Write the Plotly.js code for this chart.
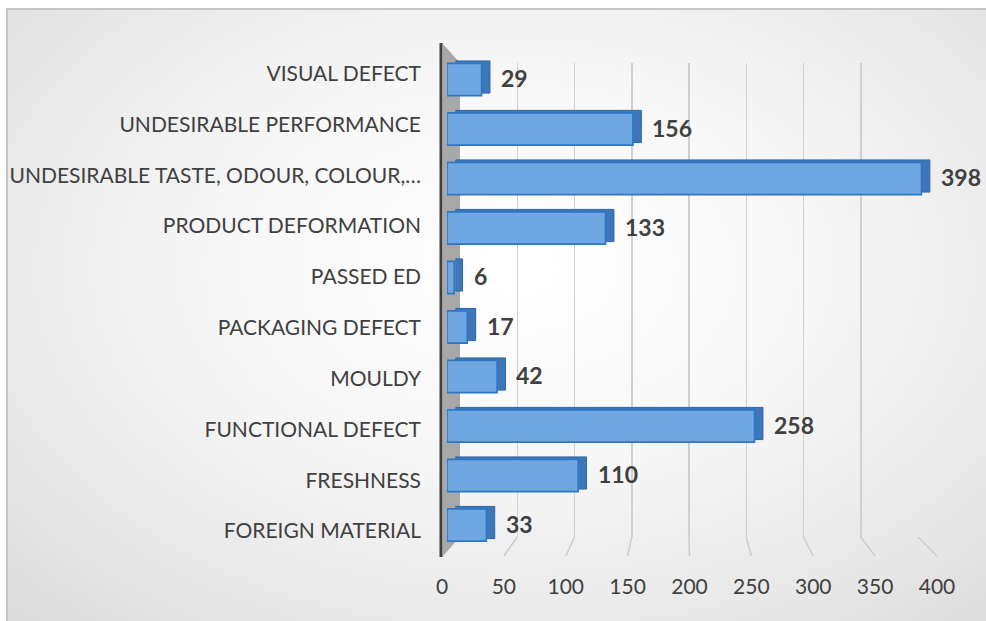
<!DOCTYPE html>
<html>
<head>
<meta charset="utf-8">
<script src="https://cdn.plot.ly/plotly-3.0.1.min.js"></script>
<style>
  html, body { margin: 0; padding: 0; background: #ffffff; }
  #wrap { position: relative; width: 986px; height: 621px; overflow: hidden; background: #ffffff; }
  #frame {
    position: absolute; left: 6px; top: 8px; right: -4px; bottom: -4px;
    border-left: 2px solid #c6c6c6; border-top: 2px solid #c6c6c6;
    background: radial-gradient(ellipse 75% 80% at 52% 42%, #ffffff 0%, #f7f7f7 40%, #e6e6e6 80%, #dadada 100%);
  }
  #chart { position: absolute; left: 0; top: 0; width: 986px; height: 621px; }
</style>
</head>
<body>
<div id="wrap">
  <div id="frame"></div>
  <div id="chart"></div>
</div>
<script>
// Complaint categories, bottom to top
const categories = [
  "FOREIGN MATERIAL",
  "FRESHNESS",
  "FUNCTIONAL DEFECT",
  "MOULDY",
  "PACKAGING DEFECT",
  "PASSED ED",
  "PRODUCT DEFORMATION",
  "UNDESIRABLE TASTE, ODOUR, COLOUR,\u2026",
  "UNDESIRABLE PERFORMANCE",
  "VISUAL DEFECT"
];
// Number of complaints per category
const counts = [33, 110, 258, 42, 17, 6, 133, 398, 156, 29];
// Value axis ticks
const tickValues = [0, 50, 100, 150, 200, 250, 300, 350, 400];

const W = 986, H = 621;
const fx = px => px / W;
const fy = py => 1 - py / H;

// Pixel geometry of the pseudo-3D box
const GRID = { x0: 460, x1: 918, top: 63, bottom: 537 };     // back wall gridlines
const FRONT_TICKS = { x0: 442, x1: 937, y: 572 };            // front edge with tick labels
const FLOOR_FRONT = 556;
const BAR = { x0: 447, scale: 1.192, depth: 8.4, lift: 2.5, top: 54.75, bottom: 549.75 };
const LABELS = { top: 48.1, bottom: 556.4, x: 441 };
const VMAX = 400;

const gridPx = v => GRID.x0 + (GRID.x1 - GRID.x0) * v / VMAX;
const frontPx = v => FRONT_TICKS.x0 + (FRONT_TICKS.x1 - FRONT_TICKS.x0) * v / VMAX;

const FONT = "Lato, 'Open Sans', sans-serif";
const TEXT = "#404040";

// Empty traces so the grid axis and the two label axes get drawn
const gridHolder = { type: "scatter", mode: "none", x: [], y: [], xaxis: "x", yaxis: "y", hoverinfo: "skip", showlegend: false };
const labelHolder = { type: "scatter", mode: "none", x: [], y: [], xaxis: "x4", yaxis: "y5", hoverinfo: "skip", showlegend: false };

// Back face of each bar (depth), drawn first
const backBars = {
  type: "bar", orientation: "h",
  x: counts, y: categories,
  xaxis: "x2", yaxis: "y2",
  width: 0.65,
  marker: { color: "#3f76b8", line: { color: "#2d67ad", width: 1 } },
  hoverinfo: "skip", showlegend: false
};
// Front face of each bar
const frontBars = {
  type: "bar", orientation: "h",
  x: counts, y: categories,
  xaxis: "x3", yaxis: "y3",
  width: 0.65,
  marker: { color: "#6ea7e1", line: { color: "#2f77c6", width: 1.6 } },
  hoverinfo: "skip", showlegend: false
};

const barXDomainEnd = x0 => fx(x0 + BAR.scale * VMAX);

const shapes = [];
// Grey side wall
shapes.push({
  type: "path", xref: "paper", yref: "paper", layer: "below",
  path: `M ${fx(443)},${fy(44)} L ${fx(GRID.x0)},${fy(GRID.top)} L ${fx(GRID.x0)},${fy(GRID.bottom)} L ${fx(443)},${fy(FLOOR_FRONT)} Z`,
  fillcolor: "#a8a8a8", line: { width: 0 }
});
// Dark wall edge
shapes.push({
  type: "line", xref: "paper", yref: "paper", layer: "below",
  x0: fx(LABELS.x), x1: fx(LABELS.x), y0: fy(43), y1: fy(557),
  line: { color: "#404040", width: 3 }
});
// Floor lines running from each back gridline to the front tick
tickValues.filter(v => v > 0).forEach(v => {
  shapes.push({
    type: "line", xref: "paper", yref: "paper", layer: "below",
    x0: fx(gridPx(v)), y0: fy(GRID.bottom), x1: fx(frontPx(v)), y1: fy(FLOOR_FRONT),
    line: { color: "#cdcdcd", width: 1.5 }
  });
});

// Value labels at the end of each bar
const annotations = counts.map((c, i) => ({
  x: c, y: categories[i], xref: "x2", yref: "y2",
  text: String(c), showarrow: false,
  xanchor: "left", yanchor: "middle", xshift: 9, yshift: -1,
  font: { family: FONT, size: 23, color: TEXT, weight: 700 }
}));

const hidden = { showgrid: false, zeroline: false, showticklabels: false, showline: false, ticks: "" };

const layout = {
  width: W, height: H,
  margin: { l: 0, r: 0, t: 0, b: 0 },
  paper_bgcolor: "rgba(0,0,0,0)",
  plot_bgcolor: "rgba(0,0,0,0)",
  font: { family: FONT, color: TEXT },
  showlegend: false,
  bargap: 0,
  // back wall gridlines
  xaxis: {
    domain: [fx(GRID.x0), fx(GRID.x1)], range: [0, VMAX], anchor: "y", autorange: false,
    showgrid: true, gridcolor: "#cfcfcf", gridwidth: 1.5, tickvals: tickValues,
    zeroline: false, showticklabels: false, ticks: "", showline: false
  },
  yaxis: Object.assign({ domain: [fy(GRID.bottom), fy(GRID.top)], range: [0, 1], autorange: false, anchor: "x" }, hidden),
  // bar depth
  xaxis2: Object.assign({ domain: [fx(BAR.x0 + BAR.depth), barXDomainEnd(BAR.x0 + BAR.depth)], range: [0, VMAX], anchor: "y2" }, hidden),
  yaxis2: Object.assign({
    domain: [fy(BAR.bottom - BAR.lift), fy(BAR.top - BAR.lift)], anchor: "x2",
    type: "category", categoryorder: "array", categoryarray: categories, range: [-0.5, 9.5]
  }, hidden),
  // bar fronts
  xaxis3: Object.assign({ domain: [fx(BAR.x0), barXDomainEnd(BAR.x0)], range: [0, VMAX], anchor: "y3" }, hidden),
  yaxis3: Object.assign({
    domain: [fy(BAR.bottom), fy(BAR.top)], anchor: "x3",
    type: "category", categoryorder: "array", categoryarray: categories, range: [-0.5, 9.5]
  }, hidden),
  // value tick labels along the front edge
  xaxis4: {
    domain: [fx(FRONT_TICKS.x0), fx(FRONT_TICKS.x1)], range: [0, VMAX], autorange: false,
    anchor: "free", position: fy(FRONT_TICKS.y), side: "bottom",
    tickvals: tickValues, ticktext: tickValues.map(String),
    showgrid: false, zeroline: false, showline: false, ticks: "",
    tickfont: { family: FONT, size: 21, color: TEXT }
  },
  // category labels
  yaxis5: {
    domain: [fy(LABELS.bottom), fy(LABELS.top)], range: [-0.5, 9.5], autorange: false,
    anchor: "free", position: fx(LABELS.x), side: "left",
    tickvals: categories.map((_, i) => i), ticktext: categories,
    showgrid: false, zeroline: false, showline: false, ticks: "",
    ticklabelstandoff: 20,
    tickfont: { family: FONT, size: 21, color: TEXT }
  },
  shapes: shapes,
  annotations: annotations
};

Plotly.newPlot("chart", [gridHolder, labelHolder, backBars, frontBars], layout, { displayModeBar: false, staticPlot: true });
</script>
</body>
</html>
